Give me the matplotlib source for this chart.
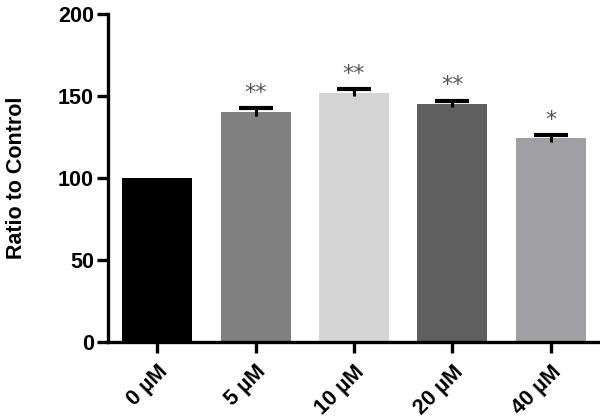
import matplotlib
matplotlib.use("Agg")
import matplotlib.pyplot as plt
import numpy as np

# data
labels = ["0 µM", "5 µM", "10 µM", "20 µM", "40 µM"]
values = [100, 140, 152, 145, 124]
errors = [0, 2.5, 2, 2, 2]
stars = ["", "**", "**", "**", "*"]
colors = ["#000000", "#808080", "#d4d4d4", "#5f5f5f", "#a0a0a4"]

plt.rcParams["font.family"] = ["Liberation Sans", "DejaVu Sans"]
plt.rcParams["font.weight"] = "bold"

fig = plt.figure(figsize=(6, 4.19), dpi=100)
ax = fig.add_axes([0.18, 0.184, 0.82, 0.783])

x = np.arange(len(labels))
ax.bar(x, values, width=0.71, color=colors, zorder=2)

# only the upper cap is drawn, the stem reaches a little into the bar
err = ax.errorbar(x[1:], values[1:], yerr=errors[1:], fmt="none", ecolor="black",
                  elinewidth=2.2, capsize=12, capthick=3, zorder=3)
err[1][0].set_visible(False)

for xi, v, e, s in zip(x, values, errors, stars):
    if s:
        ax.text(xi, v + e + 9.5, s, ha="center", va="center", fontsize=16,
                color="#555555", fontweight="normal", family="DejaVu Sans")

ax.set_xlim(-0.5, 4.5)
ax.set_ylim(0, 200)
ax.set_yticks([0, 50, 100, 150, 200])
ax.set_xticks(x)
ax.set_xticklabels(labels, rotation=45, ha="right", rotation_mode="anchor")
ax.set_ylabel("Ratio to Control", fontsize=15.5, fontweight="bold")
ax.yaxis.set_label_coords(-0.165, 0.5)

for side in ["top", "right"]:
    ax.spines[side].set_visible(False)
for side in ["left", "bottom"]:
    ax.spines[side].set_linewidth(2.4)
ax.tick_params(axis="both", width=2.4, length=8)
ax.tick_params(axis="x", pad=6, labelsize=15.5)
ax.tick_params(axis="y", pad=2, labelsize=15.5)

fig.savefig("out.png", dpi=100)
